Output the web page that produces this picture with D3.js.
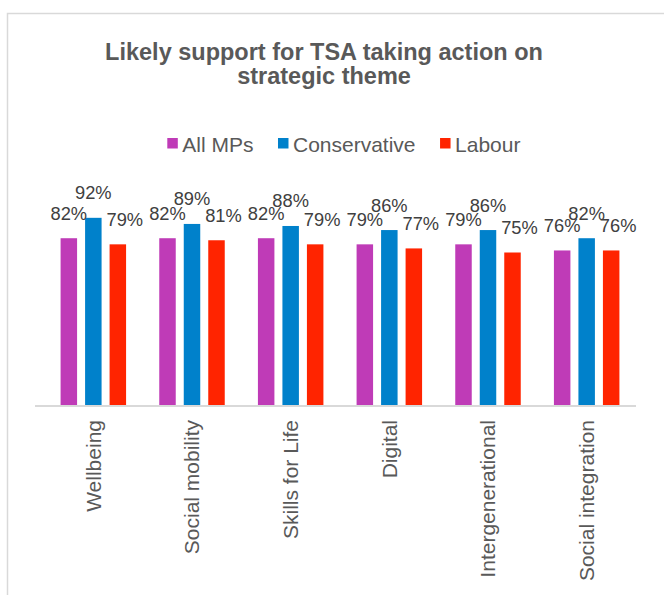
<!DOCTYPE html>
<html>
<head>
<meta charset="utf-8">
<script src="https://cdn.jsdelivr.net/npm/d3@7"></script>
<style>
  html, body { margin: 0; padding: 0; background: #fff; }
  svg { display: block; font-family: "Liberation Sans", Arial, sans-serif; }
</style>
</head>
<body>
<svg id="chart" width="664" height="595"></svg>
<script>
// Themes and survey results (share of MPs likely to support action)
const categories = ["Wellbeing", "Social mobility", "Skills for Life", "Digital", "Intergenerational", "Social integration"];
const seriesNames = ["All MPs", "Conservative", "Labour"];
const allMPs       = [0.82, 0.82, 0.82, 0.79, 0.79, 0.76];
const conservative = [0.92, 0.89, 0.88, 0.86, 0.86, 0.82];
const labour       = [0.79, 0.81, 0.79, 0.77, 0.75, 0.76];
const seriesColors = ["#BF3BB7", "#0081CB", "#FF2400"];
const titleLines = ["Likely support for TSA taking action on", "strategic theme"];

const seriesValues = [allMPs, conservative, labour];
const rows = categories.map((c, i) => ({
  category: c,
  values: seriesNames.map((s, j) => ({ series: s, idx: j, value: seriesValues[j][i] }))
}));

const svg = d3.select("#chart");
const textGrey = "#595959";

// chart frame
svg.append("rect")
  .attr("x", 7.5).attr("y", 13.5)
  .attr("width", 700).attr("height", 640)
  .attr("fill", "#fff")
  .attr("stroke", "#D9D9D9").attr("stroke-width", 1.5);

// title
svg.append("text")
  .attr("x", 324).attr("y", 60)
  .attr("text-anchor", "middle")
  .attr("fill", textGrey)
  .style("font-size", "23.5px").style("font-weight", "bold")
  .selectAll("tspan").data(titleLines).join("tspan")
  .attr("x", 324).attr("dy", (d, i) => i === 0 ? 0 : 23.5)
  .text(d => d);

// legend
const legend = svg.append("g");
let lx = 167.3;
seriesNames.forEach((name, j) => {
  legend.append("rect")
    .attr("x", lx).attr("y", 138)
    .attr("width", 10.5).attr("height", 10.5)
    .attr("fill", seriesColors[j]);
  const t = legend.append("text")
    .attr("x", lx + 15).attr("y", 152.3)
    .attr("fill", textGrey)
    .style("font-size", "21px")
    .text(name);
  lx += 15 + t.node().getComputedTextLength() + 24.5;
});

// scales
const plot = { left: 44, right: 636, top: 201.5, bottom: 405.5 };
const x0 = d3.scaleBand().domain(categories).range([plot.left, plot.right]).paddingInner(0).paddingOuter(0);
const x1 = d3.scaleBand().domain(seriesNames).range([0, x0.bandwidth()]).paddingInner(0.327).paddingOuter(0.677);
const y = d3.scaleLinear().domain([0, 1]).range([plot.bottom, plot.top]);

// bars
const groups = svg.append("g").selectAll("g").data(rows).join("g")
  .attr("transform", d => `translate(${x0(d.category)},0)`);

groups.selectAll("rect").data(d => d.values).join("rect")
  .attr("x", d => x1(d.series))
  .attr("y", d => y(d.value))
  .attr("width", x1.bandwidth())
  .attr("height", d => y(0) - y(d.value))
  .attr("fill", d => seriesColors[d.idx]);

// value labels
const labelShift = [0, 0, 7];
groups.selectAll("text").data(d => d.values).join("text")
  .attr("x", d => x1(d.series) + x1.bandwidth() / 2 + labelShift[d.idx])
  .attr("y", d => y(d.value) - 18.5)
  .attr("text-anchor", "middle")
  .attr("fill", "#404040")
  .style("font-size", "18.3px")
  .text(d => d3.format(".0%")(d.value));

// category axis
const xAxis = svg.append("g")
  .attr("transform", `translate(0,${plot.bottom})`)
  .call(d3.axisBottom(x0).tickSize(0).tickPadding(0));
xAxis.select(".domain")
  .attr("d", `M${plot.left - 9},0.5H${plot.right}`)
  .attr("stroke", "#D9D9D9").attr("stroke-width", 2);
xAxis.selectAll(".tick text")
  .attr("transform", "rotate(-90)")
  .attr("x", -14.5).attr("y", 0).attr("dy", "0.35em")
  .attr("text-anchor", "end")
  .attr("fill", textGrey)
  .style("font-size", "21px")
  .style("font-family", "\"Liberation Sans\", Arial, sans-serif");
</script>
</body>
</html>
